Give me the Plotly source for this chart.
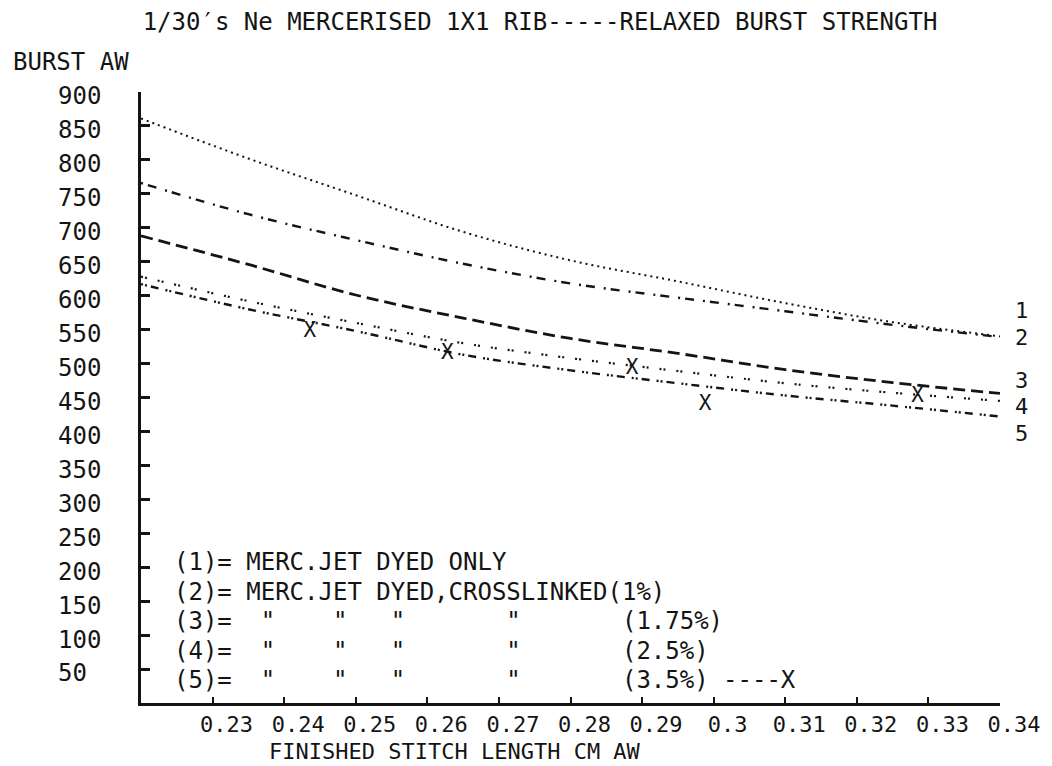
import plotly.graph_objects as go

# ---------------- data ----------------
stitch_length = [0.22, 0.235, 0.25, 0.265, 0.28, 0.295, 0.31, 0.325, 0.34]
burst_1 = [861, 802, 748, 694, 652, 621, 589, 561, 540]   # merc. jet dyed only
burst_2 = [766, 720, 682, 647, 618, 597, 577, 557, 539]   # crosslinked 1%
burst_3 = [688, 646, 601, 567, 537, 515, 491, 472, 456]   # crosslinked 1.75%
burst_4 = [628, 592, 560, 530, 508, 489, 471, 457, 445]   # crosslinked 2.5%
burst_5 = [617, 580, 548, 513, 490, 471, 453, 438, 422]   # crosslinked 3.5%
measured_5_x = [0.2436, 0.2628, 0.2886, 0.2988, 0.3285]   # 3.5% measured points (X)
measured_5_y = [547, 515, 493, 439, 451]
curve_names = ["1", "2", "3", "4", "5"]

x_ticks = [0.23, 0.24, 0.25, 0.26, 0.27, 0.28, 0.29, 0.30, 0.31, 0.32, 0.33, 0.34]
x_ticktext = ["0.23", "0.24", "0.25", "0.26", "0.27", "0.28", "0.29", "0.3",
              "0.31", "0.32", "0.33", "0.34"]
y_ticks = list(range(50, 901, 50))

legend_lines = [
    "(1)= MERC.JET DYED ONLY",
    "(2)= MERC.JET DYED,CROSSLINKED(1%)",
    '(3)=  "    "   "       "       (1.75%)',
    '(4)=  "    "   "       "       (2.5%)',
    '(5)=  "    "   "       "       (3.5%) ----X',
]

# ---------------- layout constants ----------------
W, H = 1052, 766
ML, MR, MT, MB = 141, 45, 92, 63
PW, PH = W - ML - MR, H - MT - MB
FONT = "DejaVu Sans Mono"
FS = 24
FS_X = 22
FS_END = 22
INK = "#141414"


def px_x(px):
    return (px - ML) / PW


def px_y(py):
    return (H - MB - py) / PH


styles = [
    dict(dash="2px,4px", width=2),
    dict(dash="2px,5px,9px,9px", width=2.4),
    dict(dash="12px,6px", width=2.8),
    dict(dash="2px,2px,2px,11px", width=2.2),
    dict(dash="2px,2px,2px,4px,8px,7px", width=2.4),
]
series = [burst_1, burst_2, burst_3, burst_4, burst_5]

fig = go.Figure()
for name, ys, st in zip(curve_names, series, styles):
    fig.add_trace(go.Scatter(
        x=stitch_length, y=ys, mode="lines", name=name,
        line=dict(color=INK, width=st["width"], dash=st["dash"], shape="spline"),
        showlegend=False, hoverinfo="skip"))

fig.add_trace(go.Scatter(
    x=measured_5_x, y=measured_5_y, mode="text", text=["X"] * len(measured_5_x),
    textfont=dict(family=FONT, size=21, color=INK), textposition="middle center",
    showlegend=False, hoverinfo="skip"))

annotations = []
# curve end labels (pixel offsets from each curve's end)
label_shift = [26, 0, 13, -6, -17]
for name, ys, sh in zip(curve_names, series, label_shift):
    annotations.append(dict(
        x=stitch_length[-1], y=ys[-1], xref="x", yref="y", text=name,
        showarrow=False, xshift=21, yshift=sh, xanchor="center", yanchor="middle",
        borderpad=0, font=dict(family=FONT, size=FS_END, color=INK)))

# key text block
for i, line in enumerate(legend_lines):
    annotations.append(dict(
        x=px_x(172), y=px_y(562 + 29.5 * i), xref="paper", yref="paper",
        text=line.replace(" ", "\u00a0"), showarrow=False,
        xanchor="left", yanchor="middle",
        font=dict(family=FONT, size=FS, color=INK)))

# y axis caption
annotations.append(dict(
    x=px_x(10), y=px_y(62), xref="paper", yref="paper", text="BURST\u00a0AW",
    showarrow=False, xanchor="left", yanchor="middle",
    font=dict(family=FONT, size=FS, color=INK)))
# x axis caption
annotations.append(dict(
    x=px_x(268), y=px_y(751), xref="paper", yref="paper",
    text="FINISHED STITCH LENGTH CM AW".replace(" ", "\u00a0"),
    showarrow=False, xanchor="left", yanchor="middle",
    font=dict(family=FONT, size=FS_X, color=INK)))

y_ticktext = [str(v) for v in y_ticks]
y_ticktext[0] = "50\u00a0"

fig.update_layout(
    width=W, height=H,
    margin=dict(l=ML, r=MR, t=MT, b=MB),
    paper_bgcolor="white", plot_bgcolor="white",
    font=dict(family=FONT, size=FS, color=INK),
    title=dict(text="1/30\u2032s Ne MERCERISED 1X1 RIB-----RELAXED BURST STRENGTH",
               x=540 / W, xanchor="center", y=1 - 22 / H, yanchor="middle",
               xref="container", yref="container",
               font=dict(family=FONT, size=FS, color=INK)),
    xaxis=dict(range=[0.22, 0.34], tickvals=x_ticks, ticktext=x_ticktext,
               showline=True, linecolor=INK, linewidth=2.5, showgrid=False,
               zeroline=False, ticks="inside", ticklen=6, tickwidth=1.5,
               tickcolor=INK, ticklabelshift=14, ticklabelstandoff=0,
               tickfont=dict(family=FONT, size=FS_X, color=INK)),
    yaxis=dict(range=[0, 900], tickvals=y_ticks, ticktext=y_ticktext,
               showline=True, linecolor=INK, linewidth=2.5, showgrid=False,
               zeroline=False, ticks="inside", ticklen=9, tickwidth=2.5,
               tickcolor=INK, ticklabelstandoff=32, ticklabelshift=4,
               tickfont=dict(family=FONT, size=FS, color=INK)),
    annotations=annotations,
)

fig.write_html("out.html")
